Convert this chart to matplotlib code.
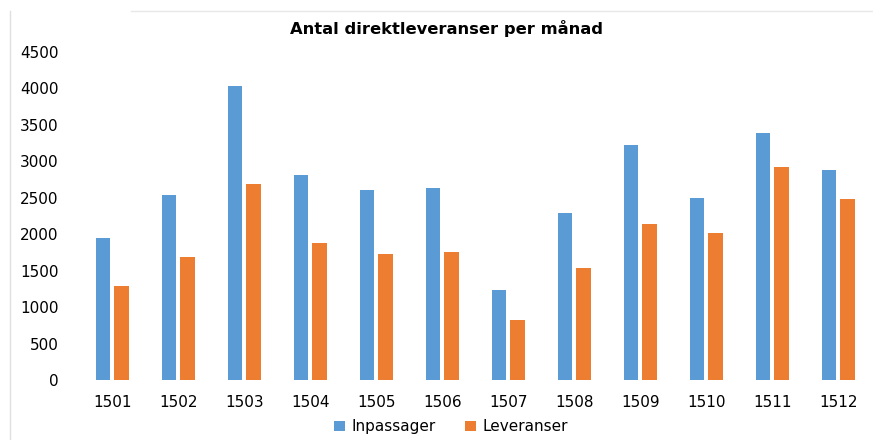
import matplotlib
matplotlib.use("Agg")
import matplotlib.pyplot as plt
import numpy as np

# Monthly counts of direct deliveries
months = ["1501", "1502", "1503", "1504", "1505", "1506",
          "1507", "1508", "1509", "1510", "1511", "1512"]
inpassager = [1950, 2535, 4030, 2810, 2600, 2640, 1235, 2295, 3220, 2495, 3385, 2880]
leveranser = [1295, 1685, 2690, 1875, 1725, 1750, 825, 1530, 2140, 2020, 2925, 2485]
yticks = [0, 500, 1000, 1500, 2000, 2500, 3000, 3500, 4000, 4500]

plt.rcParams["font.family"] = ["DejaVu Sans"]

blue = "#5B9BD5"
orange = "#ED7D31"

fig = plt.figure(figsize=(8.73, 4.40), dpi=100)
ax = fig.add_axes([0.091, 0.1364, 0.907, 0.7454])

x = np.arange(len(months))
w = 0.22
ax.bar(x - 0.14, inpassager, width=w, color=blue, label="Inpassager")
ax.bar(x + 0.14, leveranser, width=w, color=orange, label="Leveranser")

ax.set_xlim(-0.5, len(months) - 0.5)
ax.set_ylim(0, 4500)
ax.set_yticks(yticks)
ax.set_yticklabels([str(t) for t in yticks], fontsize=11)
ax.set_xticks(x)
ax.set_xticklabels(months, fontsize=11)
ax.tick_params(axis="x", length=0, pad=11)
ax.tick_params(axis="y", length=0, pad=15)
for s in ax.spines.values():
    s.set_visible(False)

fig.text(0.512, 0.936, "Antal direktleveranser per månad", ha="center", va="center",
         fontsize=11.8, fontweight="bold")

fig.legend(loc="center", bbox_to_anchor=(0.517, 0.03), ncol=2, frameon=False,
           fontsize=11, handlelength=0.7, handleheight=0.7, columnspacing=1.9,
           handletextpad=0.45)

# light frame around the chart area
fig.add_artist(plt.Line2D([0.011, 0.011], [0.0, 0.975], color="#e0e0e0", lw=1,
                          transform=fig.transFigure))
fig.add_artist(plt.Line2D([0.15, 1.0], [0.975, 0.975], color="#e8e8e8", lw=1,
                          transform=fig.transFigure))

fig.savefig("out.png", dpi=100)
